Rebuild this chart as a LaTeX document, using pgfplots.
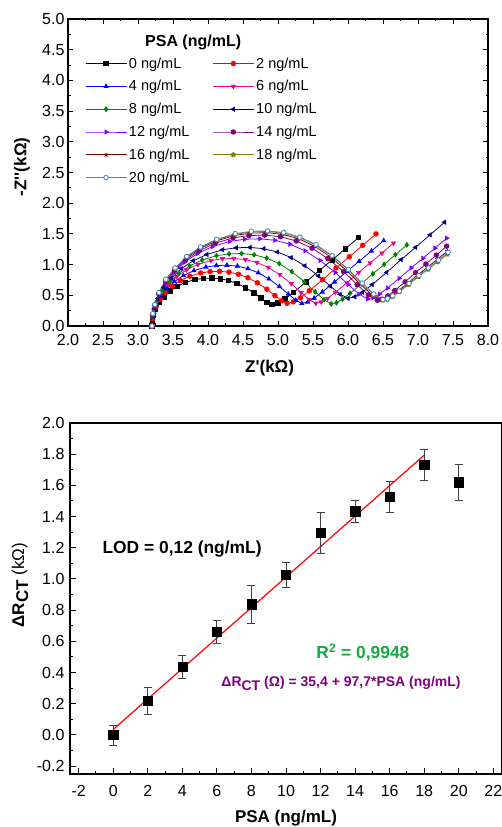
\documentclass[border=0pt]{standalone}
\usepackage{pgfplots}
\pgfplotsset{compat=1.18}
\usepackage{fontspec}
\setmainfont{Liberation Sans}
\newfontfamily\plainlib{Liberation Sans}
\definecolor{cnavy}{RGB}{0,0,128}
\definecolor{cgreen}{RGB}{0,128,0}
\definecolor{cviolet}{RGB}{128,0,255}
\definecolor{cpurple}{RGB}{128,0,128}
\definecolor{cwine}{RGB}{128,0,0}
\definecolor{colive}{RGB}{128,128,0}
\definecolor{csteel}{RGB}{70,130,190}
\definecolor{tgreen}{RGB}{20,170,60}
\definecolor{tpurple}{RGB}{128,0,128}
\begin{document}
\begin{tikzpicture}
\useasboundingbox (0,0) rectangle (501pt,827pt);
% ---------------- top chart ----------------
\begin{axis}[
  at={(68pt,501pt)}, anchor=south west, scale only axis,
  width=420pt, height=307pt,
  xmin=2, xmax=8, ymin=0, ymax=5,
  xtick={2,2.5,...,8}, ytick={0,0.5,...,5},
  minor x tick num=1, minor y tick num=1,
  tick align=inside, major tick length=5pt, minor tick length=2.5pt,
  axis line style={line width=1.4pt},
  every tick/.style={black, line width=1pt},
  /pgf/number format/assume math mode=true,
  xticklabel style={/pgf/number format/fixed, /pgf/number format/fixed zerofill, /pgf/number format/precision=1, yshift=-5pt},
  yticklabel style={/pgf/number format/fixed, /pgf/number format/fixed zerofill, /pgf/number format/precision=1},
  ticklabel style={font=\fontsize{16}{18}\selectfont},
  xlabel={\plainlib\bfseries Z'(kΩ)},
  ylabel={\plainlib\bfseries -Z''(kΩ)},
  label style={font=\fontsize{17}{19}\selectfont},
  xlabel style={at={(axis description cs:0.48,-0.137)}, anchor=center},
  ylabel style={at={(axis description cs:-0.1095,0.518)}, anchor=center},
  legend columns=2, legend cell align=left,
  legend image code/.code={\draw[mark repeat=2,mark phase=2,#1] plot coordinates {(0pt,0pt) (20.5pt,0pt) (41pt,0pt)};},
  legend style={at={(axis description cs:0.0333,0.888)}, anchor=north west, draw=none, fill=none,
    font=\fontsize{14.5}{16}\selectfont, row sep=6.8pt,
    /tikz/every even column/.append style={column sep=21pt}},
  every axis plot/.append style={line width=0.8pt, mark size=2.3pt},
]
\addplot[black, mark=square*] coordinates {
(3.200,0) (3.207,0.101) (3.221,0.176) (3.251,0.273) (3.303,0.382) (3.371,0.476) (3.457,0.569) (3.559,0.647) (3.679,0.710) (3.816,0.757) (3.935,0.776) (4.055,0.780)
(4.175,0.769) (4.294,0.741) (4.414,0.694) (4.534,0.625) (4.654,0.539) (4.756,0.453) (4.842,0.384) (4.910,0.350)
(4.997,0.372) (5.096,0.437) (5.220,0.546) (5.406,0.721) (5.592,0.906) (5.778,1.080) (5.964,1.260) (6.150,1.440)};
\addlegendentry{0 ng/mL}
\addplot[red, mark=*] coordinates {
(3.200,0) (3.208,0.116) (3.223,0.200) (3.258,0.312) (3.316,0.436) (3.393,0.543) (3.490,0.650) (3.605,0.739) (3.740,0.810) (3.895,0.863) (4.030,0.886) (4.165,0.890)
(4.300,0.877) (4.435,0.843) (4.570,0.786) (4.705,0.703) (4.841,0.599) (4.956,0.495) (5.053,0.412) (5.130,0.370)
(5.219,0.393) (5.321,0.460) (5.448,0.573) (5.638,0.754) (5.829,0.946) (6.019,1.127) (6.210,1.314) (6.400,1.500)};
\addlegendentry{2 ng/mL}
\addplot[blue, mark=triangle*] coordinates {
(3.200,0) (3.209,0.129) (3.226,0.223) (3.264,0.347) (3.328,0.485) (3.414,0.604) (3.521,0.723) (3.649,0.822) (3.799,0.901) (3.970,0.960) (4.120,0.985) (4.270,0.990)
(4.420,0.975) (4.570,0.934) (4.719,0.866) (4.869,0.767) (5.019,0.643) (5.147,0.519) (5.254,0.420) (5.340,0.370)
(5.422,0.390) (5.516,0.452) (5.633,0.554) (5.808,0.717) (5.984,0.890) (6.159,1.053) (6.335,1.222) (6.510,1.390)};
\addlegendentry{4 ng/mL}
\addplot[magenta, mark=triangle*, mark options={rotate=180}] coordinates {
(3.200,0) (3.209,0.143) (3.228,0.248) (3.270,0.385) (3.340,0.539) (3.434,0.671) (3.551,0.803) (3.691,0.913) (3.855,1.001) (4.042,1.067) (4.206,1.095) (4.370,1.100)
(4.534,1.082) (4.698,1.034) (4.861,0.954) (5.025,0.837) (5.189,0.691) (5.329,0.545) (5.446,0.428) (5.540,0.370)
(5.618,0.390) (5.707,0.448) (5.818,0.546) (5.984,0.703) (6.151,0.870) (6.317,1.027) (6.484,1.188) (6.650,1.350)};
\addlegendentry{6 ng/mL}
\addplot[cgreen, mark=diamond*] coordinates {
(3.200,0) (3.210,0.153) (3.231,0.266) (3.277,0.413) (3.354,0.578) (3.456,0.720) (3.584,0.861) (3.738,0.979) (3.917,1.074) (4.122,1.145) (4.301,1.174) (4.480,1.180)
(4.659,1.160) (4.838,1.106) (5.018,1.016) (5.197,0.885) (5.376,0.721) (5.530,0.557) (5.658,0.426) (5.760,0.360)
(5.836,0.379) (5.922,0.437) (6.030,0.533) (6.192,0.686) (6.354,0.850) (6.516,1.003) (6.678,1.162) (6.840,1.320)};
\addlegendentry{8 ng/mL}
\addplot[cnavy, mark=triangle*, mark options={rotate=90}] coordinates {
(3.200,0) (3.211,0.166) (3.234,0.288) (3.284,0.448) (3.368,0.627) (3.480,0.781) (3.620,0.934) (3.788,1.062) (3.984,1.165) (4.208,1.242) (4.404,1.274) (4.600,1.280)
(4.796,1.259) (4.992,1.205) (5.188,1.114) (5.384,0.981) (5.580,0.815) (5.748,0.649) (5.888,0.516) (6.000,0.450)
(6.097,0.475) (6.207,0.549) (6.345,0.673) (6.552,0.872) (6.759,1.082) (6.966,1.281) (7.173,1.485) (7.380,1.690)};
\addlegendentry{10 ng/mL}
\addplot[cviolet, mark=triangle*, mark options={rotate=-90}] coordinates {
(3.200,0) (3.212,0.185) (3.237,0.320) (3.292,0.497) (3.385,0.696) (3.508,0.866) (3.662,1.037) (3.847,1.179) (4.062,1.292) (4.309,1.377) (4.524,1.413) (4.740,1.420)
(4.956,1.396) (5.171,1.332) (5.387,1.224) (5.602,1.067) (5.818,0.871) (6.003,0.675) (6.157,0.518) (6.280,0.440)
(6.359,0.460) (6.450,0.519) (6.563,0.618) (6.732,0.777) (6.902,0.945) (7.071,1.103) (7.241,1.267) (7.410,1.430)};
\addlegendentry{12 ng/mL}
\addplot[cpurple, mark=*] coordinates {
(3.200,0) (3.213,0.192) (3.239,0.333) (3.297,0.518) (3.393,0.725) (3.522,0.903) (3.683,1.080) (3.876,1.228) (4.102,1.347) (4.359,1.436) (4.585,1.473) (4.810,1.480)
(5.035,1.454) (5.261,1.385) (5.486,1.268) (5.712,1.098) (5.937,0.886) (6.130,0.674) (6.291,0.505) (6.420,0.420)
(6.489,0.438) (6.569,0.490) (6.668,0.578) (6.816,0.719) (6.965,0.869) (7.113,1.010) (7.262,1.155) (7.410,1.300)};
\addlegendentry{14 ng/mL}
\addplot[cwine, mark=star, mark options={line width=1pt}] coordinates {
(3.200,0) (3.213,0.198) (3.239,0.342) (3.298,0.532) (3.396,0.745) (3.527,0.927) (3.691,1.110) (3.887,1.262) (4.116,1.383) (4.377,1.474) (4.606,1.512) (4.835,1.520)
(5.064,1.493) (5.293,1.421) (5.522,1.300) (5.751,1.124) (5.980,0.904) (6.176,0.684) (6.339,0.508) (6.470,0.420)
(6.537,0.436) (6.613,0.484) (6.708,0.564) (6.850,0.692) (6.993,0.828) (7.135,0.956) (7.278,1.088) (7.420,1.220)};
\addlegendentry{16 ng/mL}
\addplot[colive, mark=pentagon*] coordinates {
(3.200,0) (3.213,0.200) (3.240,0.347) (3.299,0.539) (3.398,0.755) (3.530,0.939) (3.695,1.124) (3.893,1.278) (4.124,1.401) (4.388,1.494) (4.619,1.532) (4.850,1.540)
(5.081,1.512) (5.312,1.439) (5.543,1.316) (5.774,1.137) (6.005,0.913) (6.203,0.689) (6.368,0.510) (6.500,0.420)
(6.564,0.435) (6.638,0.480) (6.730,0.555) (6.868,0.675) (7.006,0.803) (7.144,0.923) (7.282,1.046) (7.420,1.170)};
\addlegendentry{18 ng/mL}
\addplot[csteel, mark=*, mark options={fill=white}] coordinates {
(3.200,0) (3.213,0.202) (3.240,0.349) (3.299,0.543) (3.398,0.760) (3.530,0.946) (3.695,1.132) (3.893,1.287) (4.124,1.411) (4.388,1.504) (4.619,1.542) (4.850,1.550)
(5.081,1.522) (5.312,1.449) (5.543,1.326) (5.774,1.147) (6.005,0.923) (6.203,0.699) (6.368,0.520) (6.500,0.430)
(6.565,0.445) (6.640,0.492) (6.733,0.569) (6.872,0.692) (7.012,0.823) (7.151,0.946) (7.291,1.073) (7.430,1.200)};
\addlegendentry{20 ng/mL}
\node[font=\bfseries\fontsize{16}{18}\selectfont] at (rel axis cs:0.298,0.923) {PSA (ng/mL)};
\end{axis}
% ---------------- bottom chart ----------------
\begin{axis}[
  at={(70pt,53pt)}, anchor=south west, scale only axis,
  width=432pt, height=351pt,
  xmin=-2.5, xmax=22.5, ymin=-0.25, ymax=2.0,
  xtick={-2,0,2,4,6,8,10,12,14,16,18,20,22},
  ytick={-0.2,0,0.2,0.4,0.6,0.8,1.0,1.2,1.4,1.6,1.8,2.0},
  minor x tick num=1, minor y tick num=1,
  tick pos=left, tick align=inside, major tick length=6pt, minor tick length=3pt,
  axis line style={line width=1.2pt},
  every tick/.style={black, line width=1pt},
  /pgf/number format/assume math mode=true,
  xticklabel style={yshift=-8pt},
  yticklabel style={/pgf/number format/fixed, /pgf/number format/fixed zerofill, /pgf/number format/precision=1, xshift=-2pt},
  ticklabel style={font=\fontsize{16}{18}\selectfont},
  xlabel={\bfseries PSA (ng/mL)},
  ylabel={\textbf{ΔR}\raisebox{-4pt}{\textbf{CT}} (kΩ)},
  label style={font=\fontsize{17}{19}\selectfont},
  xlabel style={at={(axis description cs:0.5,-0.1254)}, anchor=center},
  ylabel style={at={(axis description cs:-0.1157,0.538)}, anchor=center},
]
\addplot[red, line width=1.2pt, no marks] coordinates {(0,0.0354) (18,1.7940)};
\addplot[black, only marks, mark=square*, mark size=4.6pt,
  error bars/.cd, y dir=both, y explicit,
  error bar style={line width=0.8pt, black!75},
  error mark options={rotate=90, mark size=4pt, line width=0.8pt, black!75}]
 coordinates {
 (0,0.000) +- (0,0.064)
 (2,0.221) +- (0,0.086)
 (4,0.436) +- (0,0.075)
 (6,0.660) +- (0,0.075)
 (8,0.838) +- (0,0.120)
 (10,1.026) +- (0,0.083)
 (12,1.296) +- (0,0.133)
 (14,1.434) +- (0,0.070)
 (16,1.526) +- (0,0.099)
 (18,1.732) +- (0,0.098)
 (20,1.621) +- (0,0.114)
};
\node[anchor=west, font=\bfseries\fontsize{17.4}{19}\selectfont] at (axis cs:-0.82,1.19) {LOD = 0,12 (ng/mL)};
\node[anchor=west, text=tgreen, font=\bfseries\fontsize{17.4}{19}\selectfont] at (axis cs:11.56,0.53) {R\textsuperscript{2} = 0,9948};
\node[anchor=west, text=tpurple, font=\bfseries\fontsize{14}{16}\selectfont] at (axis cs:6.06,0.33) {ΔR\raisebox{-3.5pt}{CT} (Ω) = 35,4 + 97,7*PSA (ng/mL)};
\end{axis}
\end{tikzpicture}
\end{document}
